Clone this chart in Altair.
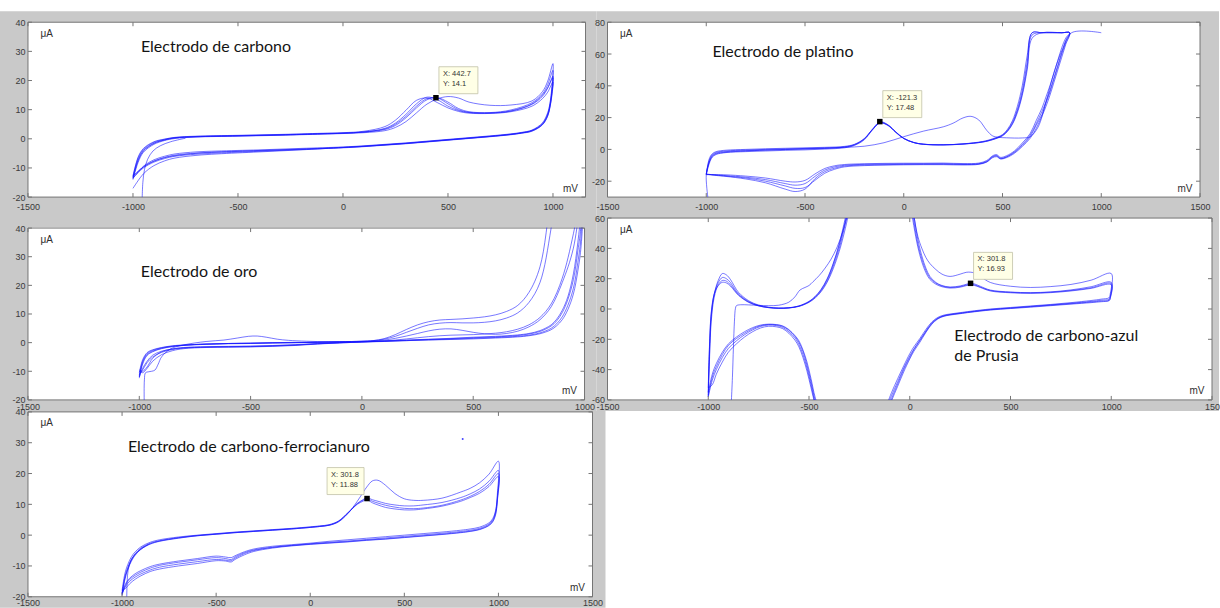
import altair as alt
import pandas as pd

GRAY = "#c9c9c9"
BORDER = "#747474"
LINE = "#1414ff"
LABEL = "#3a3a3a"

# ---------------- Panel 1: Electrodo de carbono ----------------
P1_FX = [-1000, -975, -950, -900, -850, -800, -700, -500, -300, -100, 0, 100, 200, 250, 300, 350, 400, 450, 500, 550, 600, 700, 800, 900, 950, 975, 1000]
P1_FA = [-13.0, -6.5, -3.6, -1.2, -0.2, 0.4, 0.8, 1.1, 1.4, 1.8, 2.0, 2.3, 3.2, 4.6, 7.2, 10.6, 13.4, 14.1, 12.6, 10.4, 9.3, 9.0, 9.9, 12.4, 15.4, 18.6, 23.5]
P1_FB = [-13.4, -7.2, -4.0, -1.5, -0.4, 0.3, 0.7, 1.0, 1.3, 1.7, 1.9, 2.3, 3.6, 5.4, 8.4, 12.0, 14.3, 13.4, 11.2, 9.7, 9.0, 8.8, 9.5, 11.8, 14.6, 17.4, 21.5]
P1_FC = [-12.7, -6.2, -3.3, -1.0, -0.1, 0.5, 0.9, 1.2, 1.5, 1.9, 2.1, 2.6, 4.2, 6.4, 9.8, 13.2, 14.0, 12.4, 10.6, 9.4, 8.8, 8.7, 9.3, 11.2, 13.8, 16.0, 19.5]
P1_FD = [-14.0, -8.0, -4.6, -1.9, -0.6, 0.1, 0.6, 0.9, 1.2, 1.6, 1.8, 2.1, 2.8, 3.9, 5.9, 8.9, 11.9, 13.7, 14.5, 14.0, 12.6, 11.5, 11.6, 13.0, 16.2, 19.8, 25.8]
P1_FE = [-13.6, -7.4, -4.2, -1.6, -0.4, 0.3, 0.7, 1.0, 1.3, 1.7, 1.9, 2.4, 3.4, 5.0, 7.7, 11.2, 13.8, 14.0, 12.0, 10.0, 9.1, 8.9, 9.6, 12.0, 15.0, 17.6, 21.0]
P1_RX = [1000, 995, 985, 975, 950, 900, 850, 800, 700, 600, 500, 400, 300, 200, 100, 0, -200, -400, -600, -700, -800, -850, -900, -950, -1000]
P1_RA = [23.5, 17.0, 11.5, 8.6, 5.2, 2.9, 2.1, 1.6, 0.9, 0.3, -0.3, -0.9, -1.5, -2.0, -2.5, -2.9, -3.5, -4.0, -4.5, -4.9, -5.6, -6.4, -7.6, -9.6, -13.0]
P1_RB = [21.5, 16.0, 11.0, 8.2, 5.0, 2.8, 2.0, 1.5, 0.8, 0.2, -0.4, -1.0, -1.6, -2.1, -2.6, -3.0, -3.7, -4.3, -4.9, -5.3, -6.0, -6.8, -8.0, -10.0, -13.4]
P1_RC = [19.5, 15.0, 10.5, 7.8, 4.8, 2.6, 1.9, 1.4, 0.7, 0.1, -0.5, -1.1, -1.7, -2.2, -2.7, -3.1, -3.6, -4.1, -4.6, -5.0, -5.8, -6.5, -7.7, -9.7, -12.7]
P1_RD = [25.8, 18.0, 12.0, 9.0, 5.5, 3.0, 2.2, 1.7, 1.0, 0.4, -0.2, -0.8, -1.4, -1.9, -2.4, -2.8, -3.3, -3.8, -4.2, -4.5, -5.2, -6.0, -7.2, -9.4, -13.6]
P1_RE = [21.0, 15.5, 10.8, 8.0, 4.9, 2.7, 2.0, 1.5, 0.8, 0.2, -0.4, -1.0, -1.6, -2.1, -2.6, -3.0, -3.8, -4.5, -5.2, -5.7, -6.6, -7.6, -9.2, -12.0, -17.0]
P1_SX = [-956, -953, -945, -930, -905, -870, -820, -750]
P1_SY = [-20, -15, -10.5, -7.0, -4.2, -2.4, -1.0, 0.2]

# ---------------- Panel 2: Electrodo de platino ----------------
P2_FX = [-1000, -985, -970, -950, -900, -800, -700, -600, -500, -400, -300, -250, -200, -160, -120, -80, -40, 0, 50, 100, 200, 300, 400, 450, 500, 525, 550, 575, 600, 625, 650, 700, 800, 840]
P2_FA = [-15.7, -8, -4, -2.4, -1.4, -0.8, -0.4, -0.1, 0.2, 0.6, 1.4, 2.8, 6.5, 12.5, 17.4, 15.5, 11.0, 7.0, 4.4, 3.3, 2.9, 3.4, 4.8, 6.4, 9.0, 12, 17, 25, 37, 55, 73.4, 73.4, 73.4, 73.4]
P2_FB = [-15.5, -6, -2.8, -1.4, -0.5, 0.0, 0.4, 0.7, 1.0, 1.3, 1.9, 3.2, 6.8, 12.2, 16.6, 15.0, 10.6, 6.8, 4.3, 3.2, 2.8, 3.3, 4.6, 6.1, 8.5, 11.3, 15.8, 23, 34, 50, 70, 73.4, 73.4, 73.4]
P2_FC = [-15.9, -9, -5, -3.2, -2.0, -1.4, -1.0, -0.6, -0.3, 0.2, 1.0, 2.5, 6.0, 12.0, 16.8, 15.3, 10.8, 6.9, 4.3, 3.2, 2.9, 3.5, 5.0, 6.7, 9.3, 12.6, 18, 27, 40, 59, 73.4, 73.4, 73.4, 73.4]
P2_FD = [-15.6, -7, -3.4, -1.9, -1.0, -0.4, 0.0, 0.3, 0.6, 0.9, 1.6, 3.0, 6.6, 12.4, 17.0, 15.2, 10.9, 6.9, 4.4, 3.3, 2.9, 3.4, 4.7, 6.2, 8.8, 11.6, 16.2, 24, 35, 52, 72, 73.4, 73.4, 73.4]
P2_RX = [840, 820, 800, 780, 760, 740, 720, 700, 670, 640, 600, 560, 520, 490, 470, 450, 420, 380, 300, 200, 100, 0, -100, -200, -300, -350, -400, -450, -500, -550, -600, -700, -800, -900, -950, -1000]
P2_RA = [73.4, 68, 61, 53, 45, 37, 30, 24, 16, 9, 3, -1.5, -4.6, -5.5, -3.8, -4.5, -7.5, -9.0, -9.3, -9.0, -9.1, -9.1, -9.2, -9.4, -10.0, -11.0, -13.0, -17.0, -21.5, -22.5, -21.5, -19.0, -17.5, -16.5, -16.0, -15.7]
P2_RB = [73.4, 66, 58, 50, 42, 34, 27, 21, 13, 7, 1.8, -2.5, -5.2, -6.0, -4.6, -5.2, -8.0, -9.4, -9.8, -9.6, -9.6, -9.7, -9.9, -10.2, -11.0, -12.5, -15.0, -19.5, -24.0, -24.5, -23.0, -20.0, -18.0, -16.8, -16.2, -15.5]
P2_RC = [73.4, 70, 64, 56, 48, 40, 33, 26, 18, 10, 4, -1, -4.0, -5.0, -3.3, -4.0, -7.0, -8.6, -8.9, -8.6, -8.7, -8.7, -8.8, -9.0, -9.5, -10.3, -12.0, -15.5, -19.5, -20.5, -20.0, -18.0, -16.8, -16.0, -15.9, -15.9]
P2_RD = [73.4, 67, 60, 52, 44, 36, 29, 22, 15, 8, 2.5, -2, -4.8, -5.8, -4.2, -4.8, -7.8, -9.2, -9.5, -9.3, -9.3, -9.4, -9.6, -9.8, -10.5, -11.8, -14.0, -18.5, -25.0, -26.5, -25.0, -21.0, -18.6, -17.0, -16.4, -15.6]
P2_SX = [-992, -1000, -985, -970, -950, -900, -800, -600, -400, -300, -200, -100, 0, 100, 200, 250, 300, 340, 380, 420, 450, 480, 520, 600, 640, 680, 720, 760, 800, 850, 1000]
P2_SY = [-30, -16, -8, -4.5, -2.8, -1.8, -1.0, 0.0, 0.8, 1.3, 2.0, 4.2, 8.0, 11.5, 14.2, 16.5, 19.8, 20.8, 18.5, 12.0, 8.5, 7.6, 7.3, 7.2, 8.0, 14, 30, 48, 62, 73.4, 73.4]

# ---------------- Panel 3: Electrodo de oro ----------------
P3_FX = [-1000, -985, -965, -940, -900, -850, -800, -700, -600, -500, -400, -300, -200, -100, 0, 50, 100, 150, 200, 250, 300, 350, 400, 450, 500, 550, 600, 650, 700, 750, 800, 850, 900, 950, 1000]
P3_FA = [-12.4, -7.5, -4.5, -3.2, -2.1, -1.4, -1.0, -0.6, -0.4, -0.3, -0.1, 0.0, 0.1, 0.3, 0.5, 0.7, 1.4, 2.8, 4.6, 6.2, 7.3, 7.9, 8.1, 8.3, 8.6, 9.0, 9.7, 10.9, 13.0, 17.5, 26.5, 52, 80, 100, 110]
P3_FB = [-12.0, -7.0, -4.2, -3.0, -2.0, -1.3, -0.9, -0.5, -0.3, -0.2, 0.0, 0.1, 0.2, 0.3, 0.5, 0.7, 1.2, 2.2, 3.6, 5.0, 6.2, 6.8, 7.0, 6.9, 6.9, 7.1, 7.6, 8.6, 10.4, 14.0, 21.0, 40.0, 70, 100, 110]
P3_FC = [-11.5, -6.5, -3.8, -2.7, -1.8, -1.2, -0.9, -0.5, -0.3, -0.2, -0.1, 0.0, 0.1, 0.2, 0.4, 0.6, 0.9, 1.5, 2.3, 3.2, 4.1, 4.7, 4.8, 4.3, 3.6, 3.1, 2.9, 3.2, 4.0, 5.5, 8.0, 12.5, 21.0, 33.0, 60]
P3_FD = [-10.5, -6.0, -3.5, -2.5, -1.7, -1.1, -0.8, -0.5, -0.3, -0.2, -0.1, 0.0, 0.1, 0.2, 0.3, 0.4, 0.6, 0.9, 1.3, 1.7, 2.1, 2.4, 2.6, 2.7, 2.8, 3.0, 3.3, 3.8, 4.7, 6.2, 8.8, 13.5, 22.5, 38.0, 60]
P3_RX = [1000, 985, 970, 950, 925, 900, 875, 850, 800, 750, 700, 600, 500, 400, 300, 200, 100, 0, -100, -200, -300, -400, -500, -600, -700, -800, -850, -900, -940, -965, -985, -1000]
P3_RA = [60, 42, 32, 22, 15, 10.5, 7.6, 5.8, 3.9, 3.0, 2.5, 2.0, 1.7, 1.4, 1.1, 0.8, 0.5, 0.3, 0.0, -0.4, -0.9, -1.2, -1.4, -1.5, -1.6, -1.9, -2.4, -3.4, -5.0, -7.0, -9.5, -11.0]
P3_RB = [55, 38, 28, 19, 13, 9.0, 6.6, 5.0, 3.4, 2.6, 2.2, 1.8, 1.5, 1.2, 1.0, 0.7, 0.5, 0.2, -0.1, -0.5, -1.0, -1.3, -1.5, -1.6, -1.7, -2.1, -2.8, -4.2, -6.5, -9.0, -10.5, -10.0]
P3_RC = [50, 34, 25, 17, 11.5, 8.0, 5.9, 4.5, 3.1, 2.4, 2.0, 1.6, 1.3, 1.1, 0.9, 0.7, 0.4, 0.2, -0.1, -0.4, -0.8, -1.1, -1.3, -1.4, -1.5, -1.8, -2.2, -3.0, -4.4, -6.5, -9.0, -12.0]
P3_RD = [65, 46, 35, 24, 16, 11.3, 8.2, 6.2, 4.2, 3.2, 2.7, 2.2, 1.9, 1.5, 1.2, 0.9, 0.6, 0.3, 0.0, -0.3, -0.7, -1.0, -1.2, -1.3, -1.4, -1.7, -2.2, -3.2, -5.5, -8.5, -10.0, -9.5]
P3_SX = [-978, -977, -972, -960, -945, -930, -915, -900, -860, -800, -700, -620, -560, -510, -470, -430, -380, -330, -250, -150, -50]
P3_SY = [-20, -13, -10.5, -10.2, -10.0, -9.6, -7.5, -5.0, -2.2, -0.8, 0.4, 0.9, 1.6, 2.2, 2.3, 1.9, 1.2, 0.8, 0.5, 0.3, 0.3]

# ---------------- Panel 4: Electrodo de carbono-azul de Prusia ----------------
P4_FXA = [-1000, -995, -985, -970, -950, -930, -910, -890, -870, -850, -800, -750, -700, -650, -600, -550, -500, -470, -440, -410, -380, -350, -320, -300]
P4_FAA = [-57, -35, -5, 10, 19, 23.4, 22.5, 19.5, 15, 11, 5.5, 2.6, 1.2, 0.6, 0.8, 2.0, 5.0, 8.2, 13.0, 20.0, 30.0, 43.0, 60.0, 72]
P4_FAB = [-55, -30, -3, 10, 17.5, 20.8, 20.0, 17.5, 13.5, 10.0, 5.0, 2.3, 1.0, 0.5, 0.7, 1.8, 4.6, 7.6, 12.0, 18.5, 28.0, 40.0, 56.0, 68]
P4_FAC = [-58, -38, -8, 8, 16, 18.8, 18.4, 16.0, 12.6, 9.4, 4.6, 2.1, 0.9, 0.5, 0.7, 1.7, 4.4, 7.2, 11.4, 17.6, 26.5, 38.0, 53.0, 65]
P4_FAD = [-52, -28, -2, 10, 15.5, 17.6, 17.2, 15.2, 12.0, 9.0, 4.4, 2.0, 0.9, 0.5, 0.8, 2.0, 4.9, 8.0, 12.6, 19.5, 29.5, 42.0, 58.0, 70]
P4_FXB = [0, 20, 40, 60, 80, 100, 130, 160, 200, 250, 280, 300, 320, 350, 400, 500, 600, 700, 800, 900, 1000]
P4_FBA = [80, 62, 48, 40, 34, 30, 26, 23, 21.5, 23, 24.2, 24.3, 23.8, 21.5, 17.5, 15.0, 14.2, 14.8, 16.2, 19.0, 23.4]
P4_FBB = [80, 62, 46, 35, 27, 21.5, 17.5, 15.5, 14.5, 15.2, 16.3, 16.9, 16.6, 15.0, 12.5, 11.2, 10.8, 11.3, 12.6, 14.7, 17.6]
P4_FBC = [76, 58, 43, 33, 25.5, 20.5, 17.0, 15.2, 14.2, 14.8, 15.8, 16.3, 16.0, 14.5, 12.2, 11.0, 10.6, 11.1, 12.2, 14.0, 16.8]
P4_FBD = [72, 55, 41, 31, 24, 19.5, 16.3, 14.7, 13.8, 14.4, 15.4, 16.0, 15.6, 14.2, 11.9, 10.7, 10.3, 10.8, 11.9, 13.6, 16.0]
P4_RXA = [1000, 995, 990, 950, 900, 800, 700, 600, 500, 400, 300, 250, 200, 170, 140, 110, 80, 50, 20, 0, -30, -60, -90, -110]
P4_RAA = [23.4, 10, 7.5, 6.5, 5.6, 4.2, 3.0, 2.0, 1.0, 0, -1.5, -2.4, -3.3, -4.0, -5.5, -8.5, -13.5, -19.5, -25.0, -29.5, -37.5, -46.0, -55.0, -62]
P4_RAB = [17.6, 8.5, 6.5, 5.8, 5.0, 3.8, 2.7, 1.7, 0.7, -0.3, -1.8, -2.7, -3.6, -4.4, -6.0, -9.2, -14.5, -20.5, -26.5, -31.0, -39.0, -48.0, -57.0, -64]
P4_RAC = [16.8, 7.5, 5.8, 5.2, 4.6, 3.5, 2.5, 1.5, 0.5, -0.5, -2.0, -2.9, -3.8, -4.6, -6.2, -9.5, -15.0, -21.0, -27.0, -32.0, -40.0, -49.5, -59.0, -66]
P4_RAD = [16.0, 7.0, 5.5, 4.8, 4.2, 3.2, 2.2, 1.2, 0.3, -0.7, -2.2, -3.1, -4.0, -4.8, -6.5, -10.0, -15.5, -22.0, -28.0, -33.0, -41.5, -51.0, -60.5, -68]
P4_RXB = [-450, -470, -490, -510, -530, -550, -570, -600, -630, -660, -700, -740, -780, -820, -860, -900, -930, -960, -980, -1000]
P4_RBA = [-68, -60, -48, -37, -28, -22, -18, -14, -11.5, -10.5, -10.2, -11, -13, -16, -19.5, -24, -30, -38, -45, -57]
P4_RBB = [-66, -58, -46, -35, -27, -21, -17.5, -13.6, -11.2, -10.3, -10.0, -10.6, -12.3, -15, -18.5, -23, -28.5, -36, -43, -55]
P4_RBC = [-70, -62, -50, -39, -30, -23.5, -19, -15, -12.2, -11.0, -10.6, -11.5, -13.8, -17, -21, -26, -32, -40, -47, -58]
P4_RBD = [-72, -63, -52, -41, -32, -25, -20.5, -16, -13, -11.8, -11.4, -12.5, -15, -18.5, -23, -28.5, -35, -43, -50, -52]
P4_SX = [-885, -880, -875, -870, -865, -860, -840, -800, -750, -700, -650, -600, -570, -545, -520, -500, -480, -450, -420, -390, -360, -330, -310]
P4_SY = [-60, -45, -25, -8, 0.5, 2.2, 2.8, 2.7, 2.4, 2.2, 2.5, 4.5, 8.0, 12.5, 14.2, 15.5, 18.0, 22.0, 27.0, 33.0, 41.0, 52.0, 62.0]

# ---------------- Panel 5: Electrodo de carbono-ferrocianuro ----------------
P5_FX = [-1000, -985, -970, -950, -930, -900, -850, -800, -700, -600, -500, -400, -300, -200, -100, 0, 50, 100, 150, 200, 250, 280, 300, 330, 360, 400, 450, 500, 550, 600, 700, 800, 850, 900, 950, 1000]
P5_FA = [-18.8, -13.5, -10.5, -7.8, -6.0, -4.2, -2.6, -1.8, -0.8, -0.1, 0.4, 0.9, 1.3, 1.7, 2.1, 2.6, 2.9, 3.3, 4.5, 7.3, 10.2, 11.3, 11.9, 11.0, 10.4, 9.7, 9.1, 8.7, 8.6, 8.8, 9.7, 11.4, 12.6, 14.2, 16.5, 20.0]
P5_FB = [-18.0, -12.5, -9.6, -7.0, -5.4, -3.8, -2.3, -1.5, -0.6, 0.0, 0.5, 1.0, 1.4, 1.8, 2.2, 2.7, 3.0, 3.4, 4.6, 7.2, 10.0, 11.0, 11.5, 10.5, 9.8, 9.0, 8.5, 8.2, 8.2, 8.5, 9.4, 11.0, 12.2, 13.6, 15.8, 19.0]
P5_FC = [-19.5, -14.5, -11.2, -8.4, -6.5, -4.6, -2.9, -2.0, -1.0, -0.2, 0.3, 0.8, 1.2, 1.6, 2.0, 2.5, 2.8, 3.2, 4.4, 7.1, 10.3, 11.5, 12.2, 11.5, 11.0, 10.3, 9.8, 9.5, 9.5, 9.8, 10.6, 12.2, 13.4, 15.0, 17.5, 21.0]
P5_FD = [-19.0, -14.0, -11.0, -8.0, -6.2, -4.4, -2.8, -1.9, -0.9, -0.2, 0.3, 0.8, 1.2, 1.6, 2.0, 2.5, 2.8, 3.2, 4.3, 7.0, 11.0, 13.8, 15.6, 17.6, 17.8, 16.2, 13.5, 11.8, 11.3, 11.3, 12.0, 14.0, 15.2, 17.0, 19.8, 24.0]
P5_RX = [1000, 995, 985, 970, 950, 900, 850, 800, 700, 600, 500, 400, 300, 200, 100, 0, -100, -200, -300, -350, -400, -420, -450, -500, -600, -700, -800, -850, -900, -930, -960, -980, -1000]
P5_RA = [20.0, 12, 7.0, 4.6, 3.3, 1.9, 1.3, 0.9, 0.3, -0.2, -0.7, -1.2, -1.6, -2.1, -2.5, -2.9, -3.4, -4.0, -5.0, -6.0, -7.5, -8.3, -8.1, -7.9, -8.6, -9.4, -10.4, -11.3, -12.6, -13.6, -15.0, -16.5, -18.8]
P5_RB = [19.0, 11.5, 6.6, 4.3, 3.1, 1.8, 1.2, 0.8, 0.2, -0.3, -0.8, -1.3, -1.7, -2.2, -2.6, -3.0, -3.5, -4.2, -5.3, -6.4, -7.9, -8.7, -8.4, -8.3, -9.2, -10.0, -11.0, -11.8, -13.2, -14.3, -15.8, -17.2, -18.0]
P5_RC = [21.0, 12.8, 7.6, 5.0, 3.6, 2.2, 1.6, 1.2, 0.6, 0.1, -0.4, -0.9, -1.4, -1.9, -2.3, -2.8, -3.3, -3.9, -4.8, -5.7, -7.1, -7.9, -7.6, -7.3, -8.0, -8.8, -9.8, -10.7, -12.0, -13.0, -14.4, -16.0, -19.5]
P5_RD = [24.0, 14, 8.0, 5.4, 4.0, 2.6, 2.0, 1.6, 1.0, 0.5, 0.0, -0.5, -1.0, -1.5, -2.0, -2.6, -3.1, -3.6, -4.5, -5.4, -6.7, -7.3, -7.1, -6.8, -7.6, -8.4, -9.4, -10.2, -11.5, -12.5, -14.0, -15.6, -19.0]
P5_SX = [-975, -973, -968, -955, -930, -900, -860]
P5_SY = [-20, -15, -11.5, -8.5, -6.2, -4.6, -3.0]
P5_DOT = [(810, 31.2)]

# ---------------- Titles (annotation text) and data tips ----------------
TITLES = {
    1: [("Electrodo de carbono", -962, 31.4)],
    2: [("Electrodo de platino", -969, 61.1)],
    3: [("Electrodo de oro", -993, 24.6)],
    4: [("Electrodo de carbono-azul", 221, -17.8), ("de Prusia", 221, -31.0)],
    5: [("Electrodo de carbono-ferrocianuro", -969, 28.7)],
}
TIPS = {
    1: (442.7, 14.1, "X: 442.7", "Y: 14.1"),
    2: (-121.3, 17.48, "X: -121.3", "Y: 17.48"),
    4: (301.8, 16.93, "X: 301.8", "Y: 16.93"),
    5: (301.8, 11.88, "X: 301.8", "Y: 11.88"),
}


def cyc(name, fx, fy, rx, ry):
    return (name, list(fx) + list(rx[1:]), list(fy) + list(ry[1:]))


def to_df(paths):
    rows = []
    for name, xs, ys in paths:
        assert len(xs) == len(ys), name
        for i, (x, y) in enumerate(zip(xs, ys)):
            rows.append({"s": name, "i": i, "x": x, "y": y})
    return pd.DataFrame(rows)


LINES = {
    1: to_df([cyc("a", P1_FX, P1_FA, P1_RX, P1_RA), cyc("b", P1_FX, P1_FB, P1_RX, P1_RB),
              cyc("c", P1_FX, P1_FC, P1_RX, P1_RC), cyc("d", P1_FX, P1_FD, P1_RX, P1_RD),
              cyc("e", P1_FX, P1_FE, P1_RX, P1_RE), ("s", P1_SX, P1_SY)]),
    2: to_df([cyc("a", P2_FX, P2_FA, P2_RX, P2_RA), cyc("b", P2_FX, P2_FB, P2_RX, P2_RB),
              cyc("c", P2_FX, P2_FC, P2_RX, P2_RC), cyc("d", P2_FX, P2_FD, P2_RX, P2_RD),
              ("s", P2_SX, P2_SY)]),
    3: to_df([cyc("a", P3_FX, P3_FA, P3_RX, P3_RA), cyc("b", P3_FX, P3_FB, P3_RX, P3_RB),
              cyc("c", P3_FX, P3_FC, P3_RX, P3_RC), cyc("d", P3_FX, P3_FD, P3_RX, P3_RD),
              ("s", P3_SX, P3_SY)]),
    4: to_df([("a1", P4_FXA, P4_FAA), ("b1", P4_FXA, P4_FAB), ("c1", P4_FXA, P4_FAC), ("d1", P4_FXA, P4_FAD),
              cyc("a2", P4_FXB, P4_FBA, P4_RXA, P4_RAA), cyc("b2", P4_FXB, P4_FBB, P4_RXA, P4_RAB),
              cyc("c2", P4_FXB, P4_FBC, P4_RXA, P4_RAC), cyc("d2", P4_FXB, P4_FBD, P4_RXA, P4_RAD),
              ("a3", P4_RXB, P4_RBA), ("b3", P4_RXB, P4_RBB), ("c3", P4_RXB, P4_RBC), ("d3", P4_RXB, P4_RBD),
              ("s", P4_SX, P4_SY)]),
    5: to_df([cyc("a", P5_FX, P5_FA, P5_RX, P5_RA), cyc("b", P5_FX, P5_FB, P5_RX, P5_RB),
              cyc("c", P5_FX, P5_FC, P5_RX, P5_RC), cyc("d", P5_FX, P5_FD, P5_RX, P5_RD),
              ("s", P5_SX, P5_SY)]),
}

# layout of each panel (cell width/height, plot top/bottom inside cell, gray background extent)
CFG = {
    1: dict(w=558, h=184, top=0, bot=175, xoff=-9, lpad=5, xdom=[-1500, 1155], ydom=[-20, 40],
            xt=[-1500, -1000, -500, 0, 500, 1000], yt=[-20, -10, 0, 10, 20, 30, 40],
            gray=(-28, 569, -11, 190), tipside=1),
    2: dict(w=593, h=184, top=0, bot=175, xoff=-9, lpad=5, xdom=[-1500, 1500], ydom=[-30, 80],
            xt=[-1500, -1000, -500, 0, 500, 1000, 1500], yt=[-20, 0, 20, 40, 60, 80],
            gray=(-11, 612, -11, 190), tipside=1),
    3: dict(w=557, h=182, top=10, bot=182, xoff=0, lpad=3, xdom=[-1500, 1000], ydom=[-20, 40],
            xt=[-1500, -1000, -500, 0, 500, 1000], yt=[-20, -10, 0, 10, 20, 30, 40],
            gray=(-28, 569, -6, 193), tipside=1),
    4: dict(w=605, h=182, top=0, bot=182, xoff=0, lpad=3, xdom=[-1500, 1500], ydom=[-60, 60],
            xt=[-1500, -1000, -500, 0, 500, 1000, 1500], yt=[-60, -40, -20, 0, 20, 40, 60],
            gray=(-11, 612, -6, 193), tipside=1),
    5: dict(w=565, h=185, top=0, bot=185, xoff=0, lpad=2, xdom=[-1500, 1500], ydom=[-20, 40],
            xt=[-1500, -1000, -500, 0, 500, 1000, 1500], yt=[-20, -10, 0, 10, 20, 30, 40],
            gray=(-28, 578, -1, 196), tipside=-1),
}


def panel(k):
    c = CFG[k]
    w, top, bot = c["w"], c["top"], c["bot"]
    sx = alt.Scale(domain=c["xdom"], nice=False, zero=False)
    sy = alt.Scale(domain=c["ydom"], range=[bot, top], nice=False, zero=False)
    xexpr = "datum.value == 1500 ? '150' : '' + datum.value" if k == 4 else "'' + datum.value"
    xaxis = alt.Axis(values=c["xt"], domain=False, ticks=False, grid=False,
                     labelFont="Liberation Sans", labelFontSize=9, labelColor=LABEL,
                     labelPadding=c["lpad"], labelOverlap=False, labelFlush=False, labelExpr=xexpr,
                     title="mV", titleFont="Liberation Sans", titleFontSize=10,
                     titleFontWeight="normal", titleColor="#2e2e2e", titleX=w - 8, titleY=-9,
                     titleAlign="right", titleBaseline="middle", offset=c["xoff"], zindex=1)
    yaxis = alt.Axis(values=c["yt"], domain=False, ticks=False, grid=False,
                     labelFont="Liberation Sans", labelFontSize=9, labelColor=LABEL,
                     labelPadding=3, labelOverlap=False, labelFlush=False, labelExpr="'' + datum.value",
                     title="μA", titleFont="Liberation Sans", titleFontSize=10,
                     titleFontWeight="normal", titleColor="#2e2e2e", titleAngle=0, titleX=12,
                     titleY=top + 11, titleAlign="left", titleBaseline="middle", zindex=1)

    def X(f):
        return alt.X(f, scale=sx, axis=xaxis)

    def Y(f):
        return alt.Y(f, scale=sy, axis=yaxis)

    one = pd.DataFrame({"k": [0]})
    g = c["gray"]
    layers = []
    layers.append(alt.Chart(one).mark_rect(color=GRAY).encode(
        x=alt.value(g[0]), x2=alt.value(g[1]), y=alt.value(g[2]), y2=alt.value(g[3])))
    layers.append(alt.Chart(one).mark_rect(fill="white", stroke=BORDER, strokeWidth=1).encode(
        x=alt.value(0), x2=alt.value(w), y=alt.value(top), y2=alt.value(bot)))

    layers.append(alt.Chart(LINES[k]).mark_line(
        clip=True, color=LINE, strokeWidth=0.8, opacity=0.72, interpolate="catmull-rom").encode(
        x=X("x:Q"), y=Y("y:Q"), detail="s:N", order="i:Q"))
    if top > 0:
        layers.append(alt.Chart(one).mark_rect(color=GRAY).encode(
            x=alt.value(-2), x2=alt.value(w + 2), y=alt.value(-6), y2=alt.value(top - 0.5)))

    xt = pd.DataFrame({"x": c["xt"]})
    yt = pd.DataFrame({"y": c["yt"]})
    for y0, y1 in [(bot, bot - 4), (top, top + 4)]:
        layers.append(alt.Chart(xt).mark_rule(color=BORDER, strokeWidth=1).encode(
            x=X("x:Q"), y=alt.value(y0), y2=alt.value(y1)))
    for x0, x1 in [(0, 4), (w - 4, w)]:
        layers.append(alt.Chart(yt).mark_rule(color=BORDER, strokeWidth=1).encode(
            y=Y("y:Q"), x=alt.value(x0), x2=alt.value(x1)))

    if k in TIPS:
        tx, ty, l1, l2 = TIPS[k]
        tdf = pd.DataFrame({"x": [tx], "y": [ty], "t": [l1 + "\n" + l2]})
        if c["tipside"] > 0:
            bx0, bx1, tdx = 3, 42, 7
        else:
            bx0, bx1, tdx = -40, -3, -36
        layers.append(alt.Chart(tdf).mark_rect(
            fill="#ffffe6", stroke="#c2c2a8", strokeWidth=0.8,
            xOffset=bx0, x2Offset=bx1, yOffset=-31, y2Offset=-4).encode(
            x=X("x:Q"), x2=alt.X2("x"), y=Y("y:Q"), y2=alt.Y2("y")))
        layers.append(alt.Chart(tdf).mark_text(
            align="left", baseline="top", dx=tdx, dy=-28, font="Liberation Sans", fontSize=7.5,
            color="#333333", lineBreak="\n", lineHeight=10).encode(
            x=X("x:Q"), y=Y("y:Q"), text="t:N"))
        layers.append(alt.Chart(tdf).mark_square(size=30, color="black", opacity=1, filled=True).encode(
            x=X("x:Q"), y=Y("y:Q")))

    if k == 5:
        ddf = pd.DataFrame({"x": [p[0] for p in P5_DOT], "y": [p[1] for p in P5_DOT]})
        layers.append(alt.Chart(ddf).mark_circle(size=4, color=LINE, opacity=0.8).encode(
            x=X("x:Q"), y=Y("y:Q")))

    ldf = pd.DataFrame({"t": [t[0] for t in TITLES[k]], "x": [t[1] for t in TITLES[k]],
                        "y": [t[2] for t in TITLES[k]]})
    layers.append(alt.Chart(ldf).mark_text(
        align="left", baseline="middle", font="Lato", fontSize=16, color="#141414").encode(
        x=X("x:Q"), y=Y("y:Q"), text="t:N"))

    return alt.layer(*layers).properties(width=w, height=c["h"])


chart = alt.concat(
    panel(1), panel(2), panel(3), panel(4), panel(5),
    columns=2, spacing={"row": 12, "column": 15}, bounds="flush",
).properties(
    background="white",
    padding={"left": 0, "top": 11, "right": 0, "bottom": 0},
).configure_view(stroke=None)

chart.save("out.html", embed_options={"renderer": "svg", "actions": False})
